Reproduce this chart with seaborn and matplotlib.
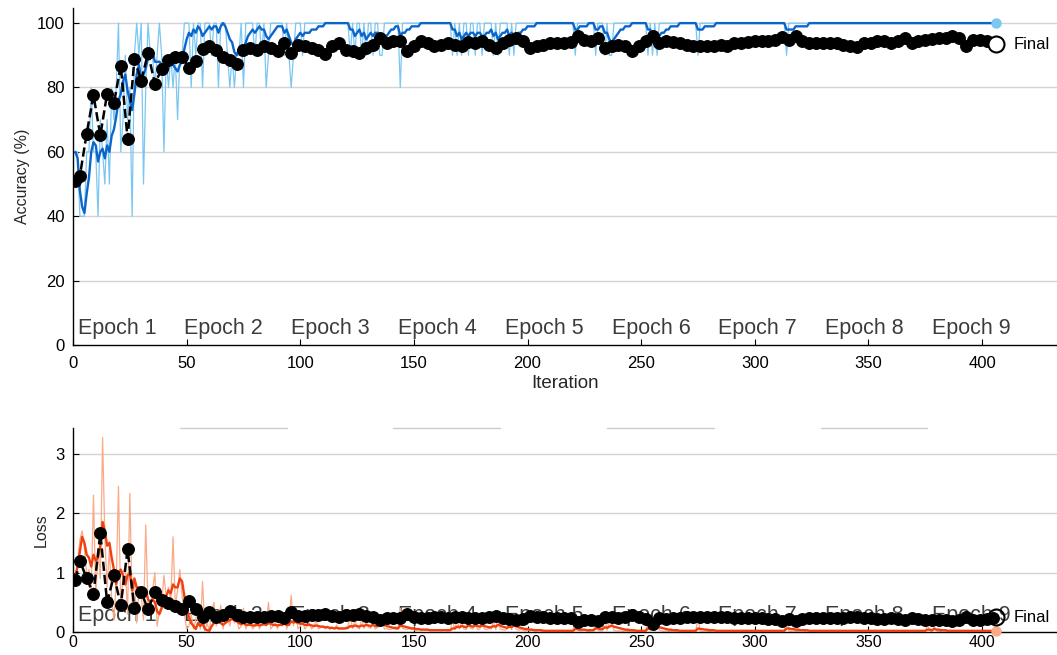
import numpy as np
import matplotlib
matplotlib.use("Agg")
import matplotlib.pyplot as plt
import seaborn as sns

# Training progress values
n_iter = 406
iters = np.arange(1, n_iter + 1)
val_iters = np.array([1] + list(range(3, n_iter, 3)))

acc_raw = [
    60, 60, 40, 40, 40, 60, 60, 80, 60, 60,
    40, 70, 60, 50, 70, 50, 80, 70, 80, 100,
    60, 70, 90, 70, 80, 40, 90, 100, 90, 100,
    50, 80, 100, 90, 90, 80, 90, 100, 90, 60,
    90, 80, 90, 80, 90, 70, 90, 90, 100, 100,
    100, 80, 100, 90, 100, 100, 80, 100, 100, 100,
    90, 100, 100, 80, 100, 100, 100, 90, 80, 90,
    80, 90, 90, 100, 80, 100, 100, 100, 100, 90,
    100, 100, 90, 100, 80, 90, 100, 100, 100, 100,
    100, 100, 90, 100, 90, 80, 90, 100, 100, 100,
    90, 100, 100, 100, 100, 100, 100, 100, 100, 100,
    100, 100, 100, 100, 100, 100, 100, 100, 100, 100,
    100, 90, 100, 90, 100, 100, 90, 100, 90, 100,
    100, 90, 100, 100, 90, 90, 100, 100, 100, 100,
    100, 100, 100, 80, 100, 100, 100, 100, 100, 100,
    100, 100, 100, 100, 100, 100, 100, 100, 100, 100,
    100, 100, 100, 100, 100, 100, 90, 100, 90, 100,
    90, 100, 100, 90, 100, 100, 90, 100, 100, 90,
    100, 100, 100, 100, 90, 100, 90, 100, 100, 100,
    100, 90, 100, 90, 100, 100, 100, 100, 100, 100,
] + [100] * 20 + [
    90, 100, 100, 100, 100, 100, 100, 100, 100, 90,
    100, 100, 100, 90, 100, 90, 90, 100, 100, 100,
] + [100] * 10 + [
    100, 100, 90, 100, 90, 100, 90, 100, 100, 100,
] + [100] * 10 + [
    100, 100, 100, 100, 90, 100, 100, 100, 100, 100,
] + [100] * 30 + [
    100, 100, 100, 90, 100, 100, 100, 100, 100, 100,
] + [100] * 86

acc_smooth = [
    60, 58, 48, 43, 41, 47, 52, 60, 63, 62,
    57, 60, 61, 58, 62, 60, 65, 67, 71, 76,
    78, 82, 84, 79, 76, 73, 78, 84, 87, 83,
    84, 86, 89, 90, 91, 88, 88, 88, 87, 84,
    85, 86, 88, 87, 86, 85, 87, 88, 92, 95,
    97, 96, 98, 97, 99, 98, 96, 97, 98, 99,
    98, 99, 99, 97, 99, 100, 99, 97, 95, 94,
    91, 90, 92, 93, 92, 94, 96, 97, 98, 97,
    98, 99, 98, 98, 96, 95, 96, 97, 98, 99,
    99, 99, 97, 98, 96, 94, 93, 95, 96, 97,
    96, 97, 97, 97, 98, 98, 98, 99, 99, 99,
    100, 100, 100, 100, 100, 100, 100, 100, 100, 100,
    100, 98, 98, 96, 97, 98, 96, 97, 95, 96,
    97, 96, 97, 97, 95, 94, 95, 96, 97, 98,
    98, 99, 99, 96, 97, 97, 98, 98, 99, 99,
    99, 99, 100, 100, 100, 100, 100, 100, 100, 100,
    100, 100, 100, 100, 100, 100, 98, 98, 96, 97,
    95, 96, 97, 96, 97, 97, 96, 97, 97, 96,
    96, 97, 97, 98, 96, 97, 95, 96, 97, 97,
    98, 96, 97, 95, 96, 97, 97, 98, 98, 99,
    99, 99, 99, 100, 100, 100, 100, 100, 100, 100,
    100, 100, 100, 100, 100, 100, 100, 100, 100, 100,
    98, 98, 99, 99, 99, 99, 100, 100, 100, 98,
    98, 99, 99, 97, 97, 95, 94, 95, 96, 97,
    98, 98, 99, 99, 99, 100, 100, 100, 100, 100,
    100, 100, 98, 98, 96, 97, 95, 96, 97, 97,
    98, 98, 99, 99, 99, 99, 100, 100, 100, 100,
    100, 100, 100, 100, 98, 98, 98, 99, 99, 99,
    99, 99, 100, 100, 100, 100, 100, 100, 100, 100,
] + [100] * 20 + [
    100, 100, 100, 98, 98, 98, 98, 99, 99, 99,
    99, 99, 99, 100, 100, 100, 100, 100, 100, 100,
] + [100] * 76

val_acc = [
    50.9, 52.5, 65.7, 77.6, 65.1, 78.1, 75.2, 86.8, 64.1, 88.8,
    82.1, 90.7, 81.2, 85.7, 88.4, 89.4, 89.4, 86.1, 88.1, 91.9,
    92.8, 91.5, 89.4, 88.6, 87.4, 91.7, 92.3, 91.7, 92.8, 92.3,
    91.2, 93.8, 90.7, 93.3, 92.8,
    92.3, 91.7, 90.5, 92.8, 93.8, 91.7, 91.2, 90.7, 92.3, 93.3,
    95.4, 93.8, 94.3, 94.3, 91.2, 92.8, 94.3, 93.8, 93.0, 93.3,
    93.8, 93.3, 92.8, 94.0, 93.8, 94.3, 93.3, 92.3, 93.8, 94.8,
    95.4, 94.3, 92.3, 92.8, 93.3, 93.8, 93.8, 93.8, 94.0, 95.9,
    94.8, 94.3, 95.4, 92.3, 92.8, 93.3, 92.8, 91.2, 92.8, 94.3,
    95.9, 93.8, 94.3, 94.0, 93.8, 93.3, 92.8, 93.0, 92.8, 93.0,
    93.3, 93.0, 93.8, 93.8, 94.0, 94.3, 94.3, 94.3, 94.8, 95.7,
    94.8, 96.1, 94.3, 93.8, 93.8, 93.8, 93.8, 93.8, 93.3, 93.0,
    92.6, 93.8, 93.8, 94.3, 94.3, 93.8, 94.3, 95.4, 93.8, 94.3,
    94.8, 95.0, 95.4, 95.4, 95.9, 95.4, 92.8, 94.8, 94.8, 94.3,
    93.8,
]
final_acc = 93.5

loss_raw = [
    0.85, 1.20, 1.55, 1.70, 1.40, 0.95, 1.05, 0.70, 2.30, 0.60,
    1.40, 0.90, 3.27, 1.60, 0.75, 1.40, 0.55, 0.20, 0.85, 2.45,
    0.40, 0.95, 1.10, 0.30, 2.33, 0.50, 0.90, 0.15, 0.70, 0.60,
    0.20, 1.80, 0.40, 0.30, 0.70, 1.00, 0.10, 0.35, 0.45, 0.95,
    0.60, 0.75, 0.50, 1.60, 0.45, 0.70, 1.05, 0.60, 0.30, 0.05,
    0.10, 0.30, 0.05, 0.20, 0.45, 0.05, 0.85, 0.02, 0.15, 0.02,
    0.35, 0.50, 0.10, 0.20, 0.45, 0.05, 0.25, 0.30, 0.10, 0.35,
    0.15, 0.25, 0.05, 0.10, 0.40, 0.05, 0.15, 0.20, 0.05, 0.10,
    0.30, 0.05, 0.15, 0.25, 0.10, 0.50, 0.05, 0.10, 0.15, 0.05,
    0.20, 0.10, 0.30, 0.05, 0.15, 0.62, 0.10, 0.30, 0.05, 0.10,
    0.20, 0.05, 0.10, 0.15, 0.05, 0.10, 0.20, 0.05, 0.08, 0.10,
    0.05, 0.10, 0.04, 0.08, 0.05, 0.12, 0.04, 0.06, 0.05, 0.08,
    0.10, 0.25, 0.06, 0.20, 0.08, 0.05, 0.22, 0.06, 0.18, 0.08,
    0.06, 0.20, 0.05, 0.08, 0.25, 0.22, 0.05, 0.06, 0.04, 0.05,
    0.06, 0.04, 0.05, 0.40, 0.06, 0.05, 0.04, 0.06, 0.05, 0.04,
    0.03, 0.04, 0.03, 0.05, 0.03, 0.04, 0.03, 0.02, 0.04, 0.03,
    0.03, 0.02, 0.04, 0.03, 0.02, 0.03, 0.20, 0.04, 0.22, 0.05,
    0.18, 0.05, 0.04, 0.22, 0.06, 0.05, 0.20, 0.04, 0.05, 0.18,
    0.05, 0.04, 0.06, 0.05, 0.20, 0.04, 0.25, 0.05, 0.04, 0.03,
    0.05, 0.20, 0.04, 0.22, 0.05, 0.03, 0.04, 0.03, 0.02, 0.03,
    0.02, 0.03, 0.02, 0.02, 0.03, 0.02, 0.02, 0.01, 0.02, 0.02,
    0.02, 0.01, 0.02, 0.01, 0.02, 0.01, 0.02, 0.01, 0.01, 0.02,
    0.22, 0.03, 0.02, 0.02, 0.03, 0.02, 0.01, 0.02, 0.02, 0.20,
    0.03, 0.02, 0.02, 0.24, 0.03, 0.20, 0.22, 0.03, 0.02, 0.02,
    0.02, 0.01, 0.02, 0.01, 0.02, 0.01, 0.01, 0.02, 0.01, 0.01,
    0.02, 0.01, 0.25, 0.03, 0.22, 0.02, 0.20, 0.03, 0.02, 0.01,
    0.02, 0.01, 0.01, 0.02, 0.01, 0.01, 0.02, 0.01, 0.01, 0.01,
    0.01, 0.02, 0.01, 0.01, 0.24, 0.02, 0.01, 0.02, 0.01, 0.01,
    0.01, 0.02, 0.01, 0.01, 0.02, 0.01, 0.01, 0.02, 0.01, 0.01,
    0.02, 0.01, 0.01, 0.01, 0.02, 0.01, 0.01, 0.02, 0.01, 0.01,
    0.01, 0.02, 0.01, 0.01, 0.02, 0.01, 0.01, 0.01, 0.02, 0.01,
    0.01, 0.02, 0.01, 0.26, 0.02, 0.01, 0.02, 0.01, 0.01, 0.02,
    0.02, 0.01, 0.02, 0.01, 0.01, 0.02, 0.01, 0.01, 0.02, 0.01,
    0.01, 0.02, 0.01, 0.01, 0.01, 0.02, 0.01, 0.01, 0.01, 0.02,
    0.01, 0.01, 0.02, 0.01, 0.01, 0.01, 0.02, 0.01, 0.01, 0.01,
    0.02, 0.01, 0.01, 0.01, 0.02, 0.01, 0.01, 0.01, 0.01, 0.02,
    0.01, 0.01, 0.01, 0.02, 0.01, 0.01, 0.01, 0.01, 0.02, 0.01,
    0.01, 0.01, 0.02, 0.01, 0.01, 0.12, 0.02, 0.01, 0.10, 0.02,
    0.01, 0.01, 0.02, 0.01, 0.01, 0.01, 0.02, 0.01, 0.01, 0.01,
    0.01, 0.02, 0.01, 0.01, 0.01, 0.01, 0.02, 0.01, 0.01, 0.01,
    0.01, 0.01, 0.02, 0.01, 0.01, 0.01,
]

loss_smooth = [
    0.95, 1.10, 1.35, 1.60, 1.50, 1.30, 1.25, 1.10, 1.30, 1.20,
    1.25, 1.45, 1.85, 1.70, 1.45, 1.50, 1.25, 1.05, 0.80, 1.00,
    1.05, 0.95, 0.80, 0.95, 1.00, 0.70, 0.90, 0.75, 0.75, 0.70,
    0.60, 0.70, 0.55, 0.50, 0.55, 0.50, 0.35, 0.30, 0.40, 0.50,
    0.60, 0.70, 0.65, 0.80, 0.75, 0.75, 0.90, 0.85, 0.60, 0.40,
    0.25, 0.15, 0.10, 0.05, 0.15, 0.10, 0.15, 0.05, 0.03, 0.02,
    0.10, 0.15, 0.20, 0.18, 0.15, 0.12, 0.15, 0.18, 0.20, 0.22,
    0.20, 0.18, 0.15, 0.13, 0.15, 0.12, 0.12, 0.12, 0.11, 0.11,
    0.12, 0.11, 0.12, 0.13, 0.12, 0.15, 0.14, 0.12, 0.12, 0.11,
    0.12, 0.12, 0.14, 0.12, 0.12, 0.18, 0.16, 0.17, 0.15, 0.14,
    0.14, 0.12, 0.12, 0.12, 0.11, 0.10, 0.11, 0.10, 0.09, 0.09,
    0.08, 0.08, 0.07, 0.07, 0.06, 0.07, 0.06, 0.06, 0.06, 0.06,
    0.07, 0.10, 0.09, 0.11, 0.10, 0.09, 0.11, 0.10, 0.12, 0.11,
    0.10, 0.12, 0.10, 0.10, 0.12, 0.14, 0.12, 0.10, 0.09, 0.08,
    0.07, 0.07, 0.06, 0.11, 0.10, 0.09, 0.08, 0.07, 0.06, 0.06,
    0.05, 0.05, 0.04, 0.04, 0.04, 0.04, 0.03, 0.03, 0.03, 0.03,
    0.03, 0.03, 0.03, 0.03, 0.03, 0.03, 0.06, 0.06, 0.09, 0.08,
    0.10, 0.09, 0.08, 0.11, 0.10, 0.09, 0.11, 0.10, 0.09, 0.11,
    0.10, 0.09, 0.08, 0.08, 0.10, 0.09, 0.12, 0.11, 0.09, 0.08,
    0.07, 0.09, 0.08, 0.11, 0.10, 0.08, 0.07, 0.06, 0.05, 0.05,
    0.04, 0.04, 0.03, 0.03, 0.03, 0.03, 0.02, 0.02, 0.02, 0.02,
] + [0.02] * 10 + [
    0.05, 0.05, 0.04, 0.04, 0.04, 0.03, 0.03, 0.03, 0.03, 0.06,
    0.06, 0.05, 0.05, 0.08, 0.07, 0.09, 0.11, 0.09, 0.08, 0.07,
    0.06, 0.05, 0.04, 0.04, 0.03, 0.03, 0.03, 0.02, 0.02, 0.02,
    0.02, 0.02, 0.06, 0.05, 0.08, 0.07, 0.09, 0.08, 0.07, 0.06,
    0.05, 0.04, 0.04, 0.03, 0.03, 0.03, 0.02, 0.02, 0.02, 0.02,
    0.02, 0.02, 0.02, 0.02, 0.06, 0.05, 0.05, 0.04, 0.04, 0.03,
    0.03, 0.03, 0.02, 0.02, 0.02, 0.02, 0.02, 0.02, 0.02, 0.02,
] + [0.02] * 20 + [
    0.02, 0.02, 0.02, 0.06, 0.06, 0.05, 0.05, 0.04, 0.04, 0.03,
    0.03, 0.03, 0.03, 0.02, 0.02, 0.02, 0.02, 0.02, 0.02, 0.02,
] + [0.02] * 45 + [
    0.04, 0.04, 0.03, 0.05, 0.04, 0.04, 0.03, 0.03, 0.03, 0.02, 0.02,
] + [0.02] * 20

val_loss = [
    0.87, 1.20, 0.90, 0.64, 1.66, 0.50, 0.95, 0.45, 1.39, 0.40,
    0.67, 0.38, 0.67, 0.53, 0.48, 0.43, 0.38, 0.52, 0.38, 0.26,
    0.33, 0.26, 0.29, 0.35, 0.28, 0.26, 0.25, 0.26, 0.26, 0.27,
    0.27, 0.24, 0.33, 0.27, 0.27,
    0.28, 0.29, 0.31, 0.27, 0.25, 0.28, 0.29, 0.30, 0.27, 0.25,
    0.21, 0.24, 0.23, 0.23, 0.30, 0.26, 0.23, 0.24, 0.25, 0.25,
    0.24, 0.25, 0.26, 0.23, 0.24, 0.23, 0.25, 0.27, 0.24, 0.22,
    0.20, 0.22, 0.27, 0.26, 0.25, 0.24, 0.24, 0.24, 0.23, 0.17,
    0.20, 0.21, 0.18, 0.26, 0.25, 0.24, 0.25, 0.28, 0.25, 0.22,
    0.14, 0.23, 0.22, 0.23, 0.24, 0.25, 0.26, 0.25, 0.26, 0.25,
    0.25, 0.25, 0.24, 0.24, 0.23, 0.23, 0.23, 0.22, 0.22, 0.19,
    0.22, 0.18, 0.22, 0.23, 0.23, 0.23, 0.23, 0.23, 0.24, 0.25,
    0.26, 0.23, 0.23, 0.22, 0.22, 0.23, 0.22, 0.20, 0.23, 0.22,
    0.21, 0.21, 0.20, 0.20, 0.19, 0.20, 0.25, 0.21, 0.21, 0.22,
    0.23,
]
final_loss = 0.25

epoch_len = 47
epoch_starts = [0, 47, 94, 141, 188, 235, 282, 329, 376]

assert len(acc_raw) == n_iter and len(acc_smooth) == n_iter
assert len(loss_raw) == n_iter and len(loss_smooth) == n_iter
assert len(val_acc) == len(val_iters) and len(val_loss) == len(val_iters)

sns.set_theme(style="white")
plt.rcParams["font.family"] = ["Liberation Sans", "DejaVu Sans"]

fig = plt.figure(figsize=(10.57, 6.55), dpi=100)
ax1 = fig.add_axes([0.0691, 0.4733, 0.9309, 0.5145])
ax2 = fig.add_axes([0.0691, 0.0351, 0.9309, 0.3115])

panels = [
    (ax1, acc_raw, acc_smooth, val_acc, final_acc, "#7cc6f2", "#0b66cc", (0, 104.7), [0, 20, 40, 60, 80, 100], "Accuracy (%)"),
    (ax2, loss_raw, loss_smooth, val_loss, final_loss, "#fbaa86", "#f0400f", (0, 3.43), [0, 1, 2, 3], "Loss"),
]

for ax, raw, smooth, val, final, c_raw, c_smooth, ylim, yticks, ylabel in panels:
    ax.set_facecolor("white")
    for t in yticks[1:]:
        ax.axhline(t, color="#d4d4d4", lw=1.0, zorder=0)

    # epoch labels sit underneath the curves
    for k, s in enumerate(epoch_starts):
        ax.annotate(f"Epoch {k + 1}", xy=(s + 2, 0), xycoords=("data", "axes fraction"),
                    xytext=(0, 8), textcoords="offset points", va="baseline", ha="left",
                    fontsize=15.5, color="#3c3c3c", zorder=1)

    sns.lineplot(x=iters, y=raw, ax=ax, color=c_raw, lw=0.9, zorder=2)
    sns.lineplot(x=iters, y=smooth, ax=ax, color=c_smooth, lw=1.7, zorder=3)
    sns.lineplot(x=val_iters, y=val, ax=ax, color="black", lw=1.8, linestyle="--",
                 marker="o", markersize=8.5, markeredgecolor="black", markerfacecolor="black", zorder=4)

    # last mini-batch value and final validation
    ax.plot([iters[-1]], [raw[-1]], "o", color=c_raw, markersize=6.5, zorder=5, clip_on=False)
    ax.plot([iters[-1]], [final], "o", markersize=11.5, markerfacecolor="white" if ax is ax1 else "none",
            markeredgecolor="black", markeredgewidth=1.5, zorder=6, clip_on=False)
    ax.annotate("Final", xy=(iters[-1], final), xytext=(13, 0), textcoords="offset points",
                va="center", ha="left", fontsize=12, color="black", zorder=7)

    ax.set_xlim(0, 433)
    ax.set_ylim(*ylim)
    ax.set_yticks(yticks)
    ax.set_xticks(range(0, 401, 50))
    ax.tick_params(axis="both", direction="in", length=4, width=0.8, labelsize=12, colors="black",
                   left=True, bottom=True)
    ax.tick_params(axis="y", pad=6)
    ax.set_ylabel(ylabel, fontsize=11.5, labelpad=5)
    ax.set_xlabel("")
    for side in ["top", "right"]:
        ax.spines[side].set_visible(False)
    for side in ["left", "bottom"]:
        ax.spines[side].set_color("black")
        ax.spines[side].set_linewidth(1.0)

ax1.tick_params(axis="x", pad=8)
ax2.tick_params(axis="x", pad=2, labelsize=11.5)

# shaded-epoch edges along the top of the loss panel
for k, s in enumerate(epoch_starts):
    if k % 2 == 1:
        ax2.plot([s, s + epoch_len], [3.43, 3.43], color="#cccccc", lw=1.0, zorder=0, clip_on=False)

ax1.set_xlabel("Iteration", fontsize=13.5, labelpad=3)

fig.savefig("out.png", dpi=100, facecolor="white")
